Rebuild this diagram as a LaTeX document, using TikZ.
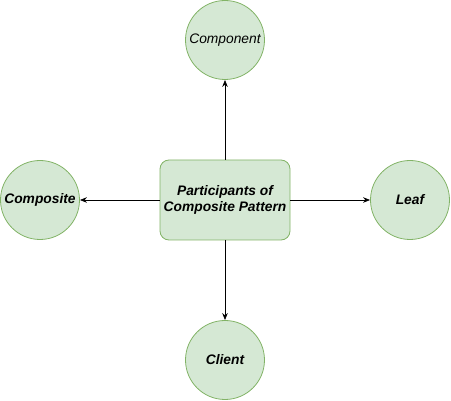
\documentclass[tikz,border=0pt]{standalone}
\usepackage{fontspec}
\setmainfont{Liberation Sans}
\usetikzlibrary{arrows.meta}
\definecolor{gfill}{HTML}{D5E8D4}
\definecolor{gline}{HTML}{82B366}
\begin{document}
\begin{tikzpicture}[x=1pt,y=-1pt,
  circ/.style={circle,draw=gline,fill=gfill,line width=0.8pt,minimum size=79pt,inner sep=0pt,font=\fontsize{13.8}{16}\selectfont\bfseries\itshape},
  mainbox/.style={rectangle,rounded corners=9pt,draw=gline,fill=gfill,line width=0.8pt,minimum width=130pt,minimum height=80pt,inner sep=0pt,align=center,font=\fontsize{13.8}{16}\selectfont\bfseries\itshape},
  conn/.style={-{Stealth[length=7pt,width=5.5pt]},line width=0.8pt}]
\useasboundingbox (0,0) rectangle (451,401);
\node[mainbox] (p) at (225,200) {Participants of\\Composite Pattern};
\node[circ,font=\fontsize{13.8}{16}\selectfont\itshape] (comp) at (225,40) {Component};
\node[circ] (cs) at (40,200) {Composite};
\node[circ] (leaf) at (410,200) {Leaf};
\node[circ] (cl) at (225,360) {Client};
\draw[conn] (p) -- (comp);
\draw[conn] (p) -- (cs);
\draw[conn] (p) -- (leaf);
\draw[conn] (p) -- (cl);
\end{tikzpicture}
\end{document}
